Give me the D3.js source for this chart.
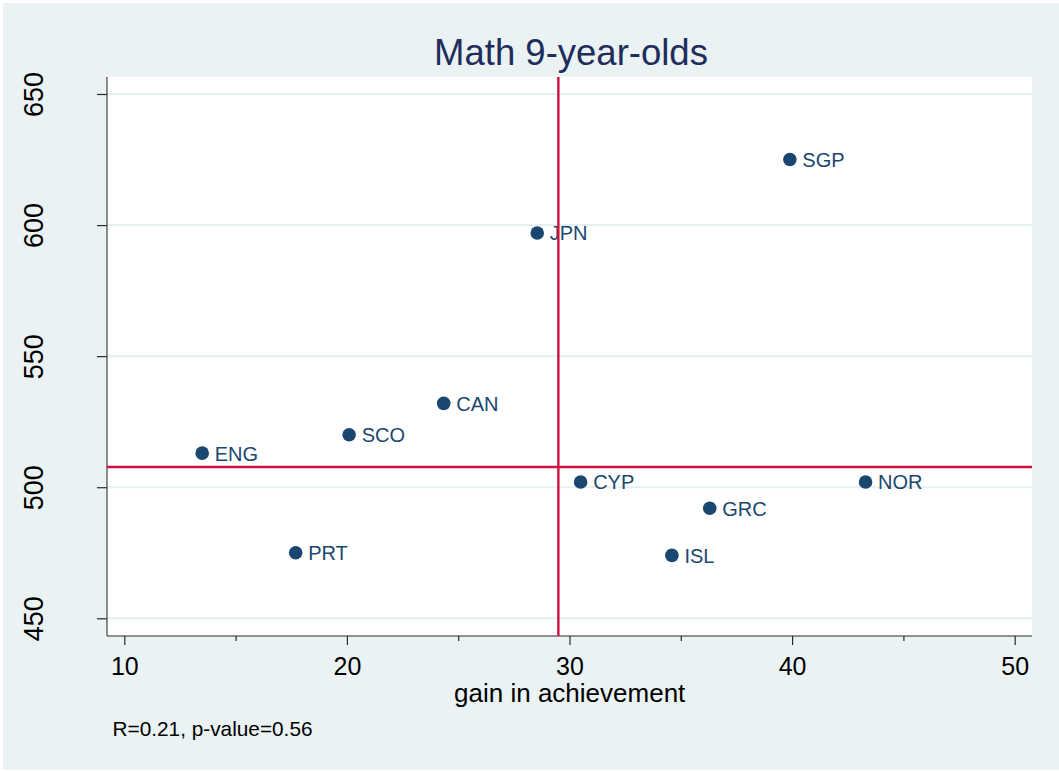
<!DOCTYPE html>
<html>
<head>
<meta charset="utf-8">
<script src="https://cdn.jsdelivr.net/npm/d3@7"></script>
<style>
  body { margin: 0; background: #fff; }
  svg { display: block; }
  text { font-family: "Liberation Sans", Arial, Helvetica, sans-serif; }
</style>
</head>
<body>
<svg id="chart" width="1059" height="771"></svg>
<script>
// Countries: gain in achievement vs. math score of 9-year-olds
const countries = ["SGP", "JPN", "CAN", "SCO", "ENG", "CYP", "NOR", "GRC", "ISL", "PRT"];
const gain      = [39.9, 28.55, 24.35, 20.1, 13.5, 30.5, 43.3, 36.3, 34.6, 17.7];
const score     = [625, 597, 532, 520, 513, 502, 502, 492, 474, 475];

const xTicks      = [10, 20, 30, 40, 50];
const xMinorTicks = [15, 25, 35, 45];
const yTicks      = [450, 500, 550, 600, 650];

// Reference lines
const refGain  = 29.5;
const refScore = 507.7;

const titleText    = "Math 9-year-olds";
const xTitleText   = "gain in achievement";
const noteText     = "R=0.21, p-value=0.56";

// Layout
const W = 1059, H = 771;
const plot = { left: 107, top: 77, right: 1032, bottom: 636 };

const colors = {
  bg: "#eaf2f3",
  grid: "#e6eff1",
  marker: "#1a476f",
  title: "#1e2d5a",
  ref: "#cc1040",
  axis: "#2a2a2a"
};

const svg = d3.select("#chart");

// Graph region background
svg.append("rect")
  .attr("x", 3).attr("y", 3)
  .attr("width", W - 3).attr("height", H - 4)
  .attr("fill", colors.bg);

// Plot region
svg.append("rect")
  .attr("x", plot.left).attr("y", plot.top)
  .attr("width", plot.right - plot.left)
  .attr("height", plot.bottom - plot.top)
  .attr("fill", "#fff");

const x = d3.scaleLinear().domain([10, 50]).range([124.3, 1014.7]);
const y = d3.scaleLinear().domain([450, 650]).range([618.3, 94]);

// Horizontal grid lines
svg.append("g")
  .selectAll("line")
  .data(yTicks)
  .join("line")
  .attr("x1", plot.left).attr("x2", plot.right)
  .attr("y1", d => y(d)).attr("y2", d => y(d))
  .attr("stroke", colors.grid)
  .attr("stroke-width", 2);

// Y axis
const yAxis = svg.append("g")
  .attr("transform", `translate(${plot.left},0)`)
  .call(d3.axisLeft(y).tickValues(yTicks).tickSize(10).tickSizeOuter(0).tickFormat(d3.format("d")));
yAxis.select(".domain").remove();
yAxis.selectAll(".tick line").attr("stroke", colors.axis).attr("stroke-width", 1.2);
yAxis.selectAll(".tick text")
  .attr("x", 0).attr("y", -64.3).attr("dy", null)
  .attr("transform", "rotate(-90)")
  .attr("text-anchor", "middle")
  .attr("fill", "#000")
  .style("font-size", "27px");

// X axis (major)
const xAxis = svg.append("g")
  .attr("transform", `translate(0,${plot.bottom})`)
  .call(d3.axisBottom(x).tickValues(xTicks).tickSize(9).tickSizeOuter(0).tickFormat(d3.format("d")));
xAxis.select(".domain").remove();
xAxis.selectAll(".tick line").attr("stroke", colors.axis).attr("stroke-width", 1.2);
xAxis.selectAll(".tick text")
  .attr("y", 39).attr("dy", null)
  .attr("fill", "#000")
  .style("font-size", "25px");

// X axis (minor)
const xMinor = svg.append("g")
  .attr("transform", `translate(0,${plot.bottom})`)
  .call(d3.axisBottom(x).tickValues(xMinorTicks).tickSize(5).tickSizeOuter(0).tickFormat(""));
xMinor.select(".domain").remove();
xMinor.selectAll(".tick line").attr("stroke", colors.axis).attr("stroke-width", 1.2);

// Axis lines
svg.append("line")
  .attr("x1", plot.left).attr("x2", plot.left)
  .attr("y1", plot.top).attr("y2", plot.bottom)
  .attr("stroke", "#444").attr("stroke-width", 1.2);
svg.append("line")
  .attr("x1", plot.left).attr("x2", plot.right)
  .attr("y1", plot.bottom).attr("y2", plot.bottom)
  .attr("stroke", colors.axis).attr("stroke-width", 1.2);

// Points and labels
const data = countries.map((c, i) => ({ c, gx: gain[i], sc: score[i] }));
const pts = svg.append("g");
pts.selectAll("circle")
  .data(data)
  .join("circle")
  .attr("cx", d => x(d.gx))
  .attr("cy", d => y(d.sc))
  .attr("r", 6.8)
  .attr("fill", colors.marker);
pts.selectAll("text")
  .data(data)
  .join("text")
  .attr("x", d => x(d.gx) + 12.5)
  .attr("y", d => y(d.sc) + 7.5)
  .attr("fill", colors.marker)
  .style("font-size", "20px")
  .text(d => d.c);

// Reference lines
svg.append("line")
  .attr("x1", x(refGain)).attr("x2", x(refGain))
  .attr("y1", plot.top).attr("y2", plot.bottom)
  .attr("stroke", colors.ref).attr("stroke-width", 2.4);
svg.append("line")
  .attr("x1", plot.left).attr("x2", plot.right)
  .attr("y1", y(refScore)).attr("y2", y(refScore))
  .attr("stroke", colors.ref).attr("stroke-width", 2.4);

// Title
svg.append("text")
  .attr("x", 571).attr("y", 65)
  .attr("text-anchor", "middle")
  .attr("fill", colors.title)
  .style("font-size", "36.5px")
  .text(titleText);

// X axis title
svg.append("text")
  .attr("x", 569.7).attr("y", 701.5)
  .attr("text-anchor", "middle")
  .attr("fill", "#000")
  .style("font-size", "26px")
  .text(xTitleText);

// Note
svg.append("text")
  .attr("x", 112.5).attr("y", 735.5)
  .attr("fill", "#000")
  .style("font-size", "20.8px")
  .text(noteText);
</script>
</body>
</html>
